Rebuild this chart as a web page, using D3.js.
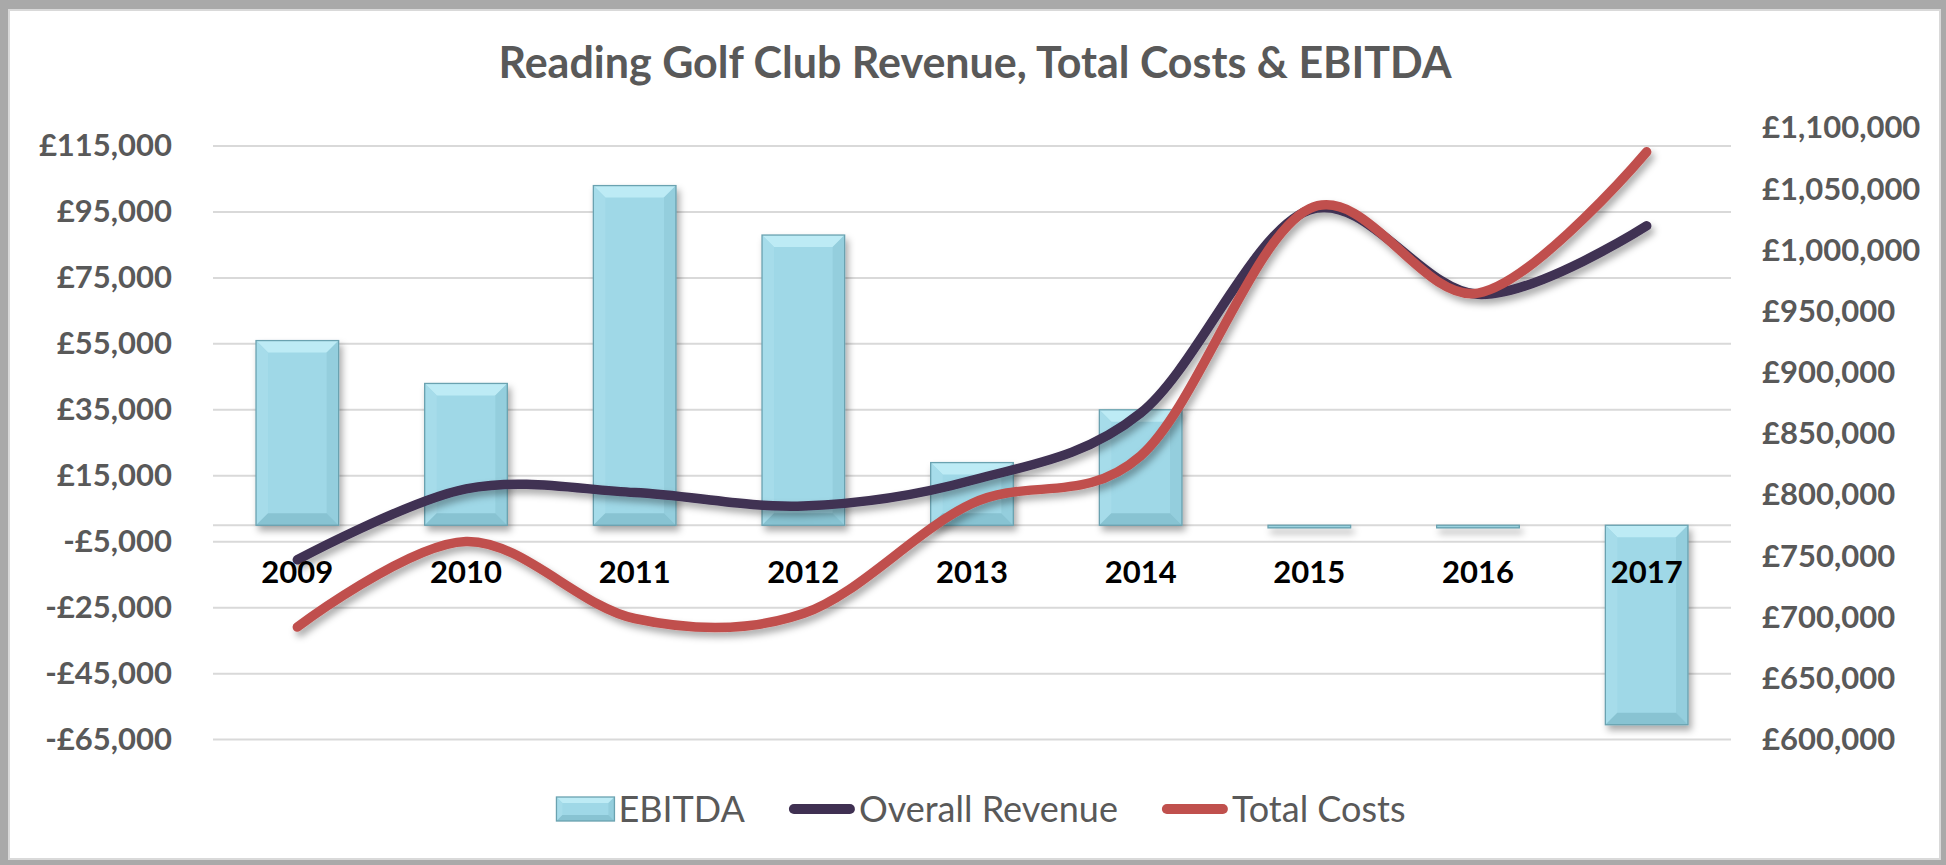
<!DOCTYPE html>
<html>
<head>
<meta charset="utf-8">
<script src="https://cdn.jsdelivr.net/npm/d3@7"></script>
<style>
  html, body { margin: 0; padding: 0; background: #fff; }
  svg { display: block; }
</style>
</head>
<body>
<svg id="chart" width="1946" height="865"></svg>
<script>
// data
var years = ["2009", "2010", "2011", "2012", "2013", "2014", "2015", "2016", "2017"];
var ebitda = [56000, 43000, 103000, 88000, 19000, 35000, -800, -800, -60500];
var revenue = [747000, 805000, 802000, 791000, 812000, 867000, 1033000, 964000, 1020000];
var costs = [692000, 762000, 699000, 703000, 793000, 832000, 1034000, 965000, 1080500];
var leftTicks = [-65000, -45000, -25000, -5000, 15000, 35000, 55000, 75000, 95000, 115000];
var rightTicks = [600000, 650000, 700000, 750000, 800000, 850000, 900000, 950000, 1000000, 1050000, 1100000];
var seriesNames = ["EBITDA", "Overall Revenue", "Total Costs"];

var svg = d3.select("#chart"),
    width = +svg.attr("width"),
    height = +svg.attr("height");

var font = "Lato, 'Open Sans', sans-serif";
var grey = "#595959";
var revColor = "#3f3052", costColor = "#c0504d";

var plotLeft = 213, plotRight = 1731, plotTop = 146, plotBottom = 739.6;

// frame
svg.append("rect").attr("width", width).attr("height", height).attr("fill", "#a9a9a9");
svg.append("rect").attr("x", 9).attr("y", 10).attr("width", width - 15).attr("height", height - 16)
  .attr("fill", "#fff").attr("stroke", "#d9d9d9").attr("stroke-width", 2);

var defs = svg.append("defs");
defs.append("filter").attr("id", "shadow").attr("x", "-10%").attr("y", "-10%").attr("width", "120%").attr("height", "130%")
  .append("feDropShadow").attr("dx", 3).attr("dy", 5).attr("stdDeviation", 3.5)
  .attr("flood-color", "#000").attr("flood-opacity", 0.33);

var x = d3.scaleBand().domain(years).range([plotLeft, plotRight]).paddingInner(0.51).paddingOuter(0.255);
var y = d3.scaleLinear().domain([-65000, 115000]).range([plotBottom, plotTop]);
var y2 = d3.scaleLinear().domain([600000, 1100000]).range([plotBottom, 128]);

var fmt = d3.format(",");
function money(v) { return v < 0 ? "-£" + fmt(-v) : "£" + fmt(v); }

// title
svg.append("text")
  .attr("x", 975).attr("y", 78)
  .attr("text-anchor", "middle")
  .style("font-family", font).style("font-weight", "bold").style("font-size", "43px")
  .style("fill", grey)
  .text("Reading Golf Club Revenue, Total Costs & EBITDA");

// gridlines
var grid = svg.append("g").attr("class", "grid");
grid.selectAll("line").data(leftTicks.concat([0])).enter().append("line")
  .attr("x1", plotLeft).attr("x2", plotRight)
  .attr("y1", function(d) { return y(d); }).attr("y2", function(d) { return y(d); })
  .attr("stroke", "#d9d9d9").attr("stroke-width", 2);

// axes labels
var yAxis = svg.append("g").attr("transform", "translate(" + plotLeft + ",0)")
  .call(d3.axisLeft(y).tickValues(leftTicks).tickFormat(money).tickSize(0).tickPadding(41));
var y2Axis = svg.append("g").attr("transform", "translate(" + plotRight + ",0)")
  .call(d3.axisRight(y2).tickValues(rightTicks).tickFormat(money).tickSize(0).tickPadding(31));
[yAxis, y2Axis].forEach(function(a) {
  a.select(".domain").remove();
  a.selectAll("text")
    .style("font-family", font).style("font-weight", "bold").style("font-size", "31px")
    .style("fill", grey);
});

// bevelled bars
function bevelBar(g, x0, y0, w, h, b) {
  b = Math.min(b, h / 2, w / 2);
  var x1 = x0 + w, y1 = y0 + h;
  g.append("rect").attr("x", x0).attr("y", y0).attr("width", w).attr("height", h).attr("fill", "#9fd8e7");
  g.append("path").attr("d", "M" + x0 + "," + y0 + "L" + x1 + "," + y0 + "L" + (x1 - b) + "," + (y0 + b) + "L" + (x0 + b) + "," + (y0 + b) + "Z")
    .attr("fill", "#bdebf5");
  g.append("path").attr("d", "M" + x0 + "," + y0 + "L" + (x0 + b) + "," + (y0 + b) + "L" + (x0 + b) + "," + (y1 - b) + "L" + x0 + "," + y1 + "Z")
    .attr("fill", "#a6dcea");
  g.append("path").attr("d", "M" + x1 + "," + y0 + "L" + (x1 - b) + "," + (y0 + b) + "L" + (x1 - b) + "," + (y1 - b) + "L" + x1 + "," + y1 + "Z")
    .attr("fill", "#94cedd");
  g.append("path").attr("d", "M" + x0 + "," + y1 + "L" + (x0 + b) + "," + (y1 - b) + "L" + (x1 - b) + "," + (y1 - b) + "L" + x1 + "," + y1 + "Z")
    .attr("fill", "#88c3d2");
  g.append("rect").attr("x", x0).attr("y", y0).attr("width", w).attr("height", h)
    .attr("fill", "none").attr("stroke", "#6aa2b0").attr("stroke-width", 1.3);
}

var bars = svg.append("g").attr("class", "bars").attr("filter", "url(#shadow)");
years.forEach(function(yr, i) {
  var v = ebitda[i];
  var y0 = Math.min(y(v), y(0)), h = Math.abs(y(v) - y(0));
  bevelBar(bars.append("g"), x(yr), y0, x.bandwidth(), h, 12);
});

// lines
var line = function(vals) {
  return d3.line()
    .x(function(d, i) { return x(years[i]) + x.bandwidth() / 2; })
    .y(function(d) { return y2(d); })
    .curve(d3.curveCatmullRom.alpha(0))(vals);
};
var lines = svg.append("g").attr("class", "lines").attr("filter", "url(#shadow)");
lines.append("path").attr("d", line(revenue)).attr("fill", "none")
  .attr("stroke", revColor).attr("stroke-width", 9.5).attr("stroke-linecap", "round");
lines.append("path").attr("d", line(costs)).attr("fill", "none")
  .attr("stroke", costColor).attr("stroke-width", 9.5).attr("stroke-linecap", "round");

// category labels
svg.append("g").selectAll("text").data(years).enter().append("text")
  .attr("x", function(d) { return x(d) + x.bandwidth() / 2; })
  .attr("y", 583)
  .attr("text-anchor", "middle")
  .style("font-family", font).style("font-weight", "bold").style("font-size", "31px")
  .style("fill", "#000")
  .text(function(d) { return d; });

// legend
var legend = svg.append("g").attr("class", "legend");
var lx = 0, ly = 809;
seriesNames.forEach(function(name, i) {
  var item = legend.append("g").attr("transform", "translate(" + lx + ",0)");
  var sw;
  if (i == 0) {
    bevelBar(item.append("g"), 0, ly - 12, 58, 24, 6);
    sw = 58;
  } else {
    item.append("line").attr("x1", 5).attr("x2", 61).attr("y1", ly).attr("y2", ly)
      .attr("stroke", i == 1 ? revColor : costColor).attr("stroke-width", 10).attr("stroke-linecap", "round");
    sw = 66;
  }
  var t = item.append("text").attr("x", sw + 4).attr("y", ly + 13)
    .style("font-family", font).style("font-size", "36px").style("fill", grey)
    .text(name);
  lx += sw + 4 + t.node().getComputedTextLength() + 44;
});
var lw = lx - 44;
legend.attr("transform", "translate(" + (981 - lw / 2) + ",0)");
</script>
</body>
</html>
